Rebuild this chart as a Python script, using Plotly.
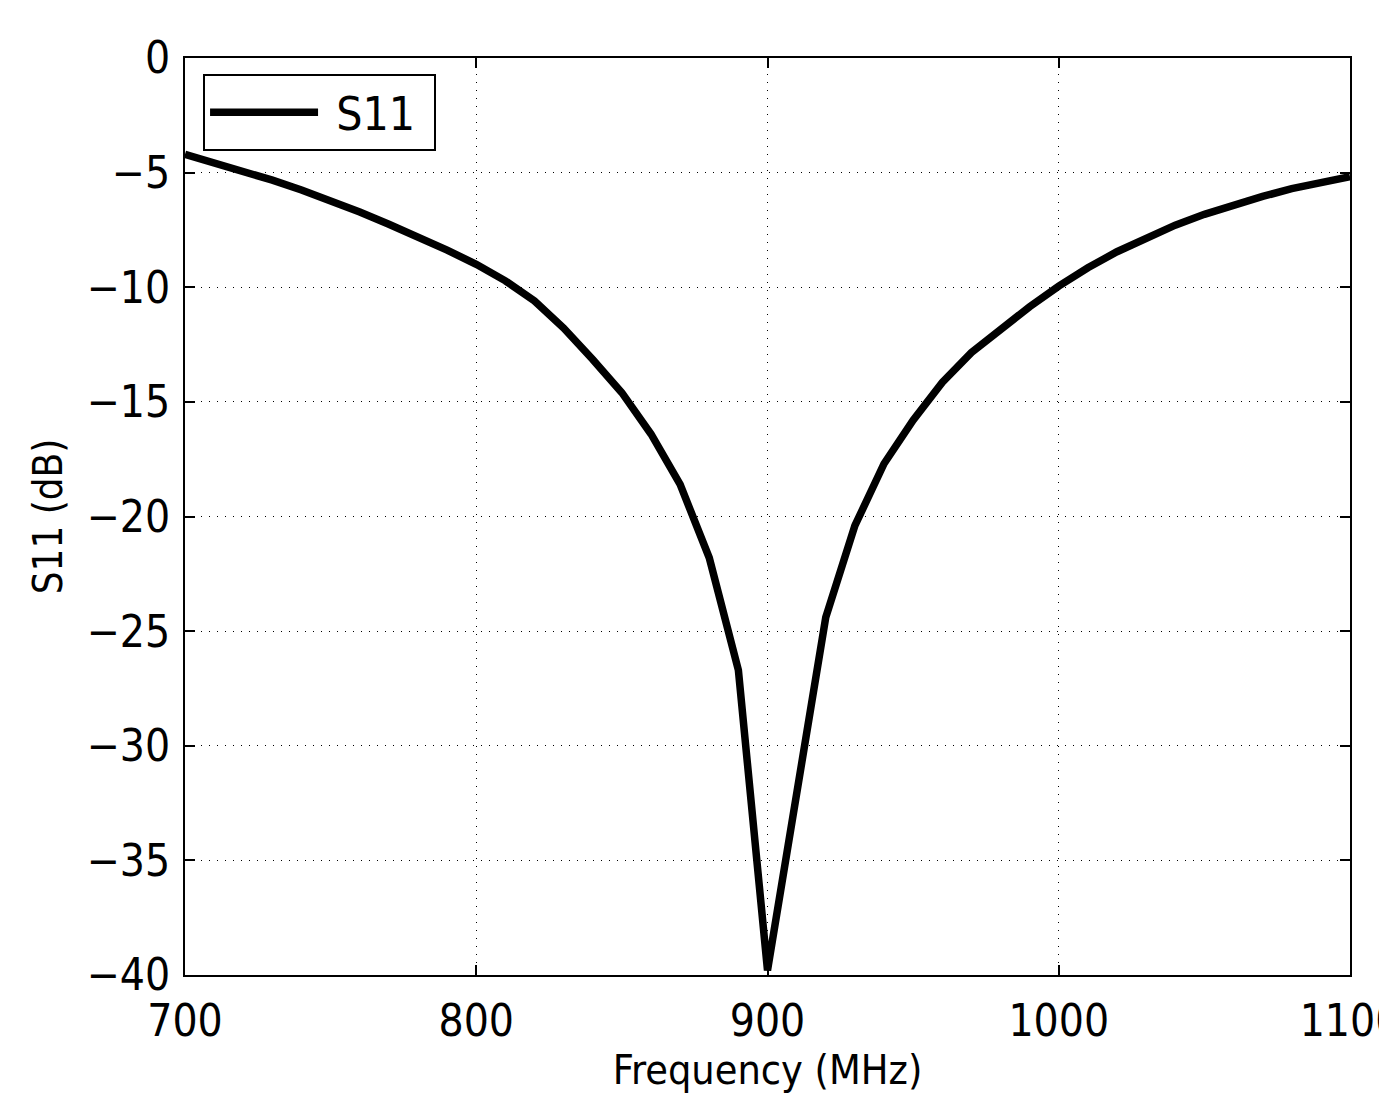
import plotly.graph_objects as go

freq_mhz = [700, 710, 720, 730, 740, 750, 760, 770, 780, 790,
            800, 810, 820, 830, 840, 850, 860, 870, 880, 890,
            900, 910, 920, 930, 940, 950, 960, 970, 980, 990,
            1000, 1010, 1020, 1030, 1040, 1050, 1060, 1070, 1080, 1090, 1100]
s11_db = [-4.2, -4.55, -4.93, -5.33, -5.76, -6.22, -6.72, -7.25, -7.8, -8.38,
          -9.0, -9.72, -10.6, -11.78, -13.15, -14.6, -16.4, -18.6, -21.8, -26.7,
          -39.8, -32.0, -24.4, -20.4, -17.7, -15.8, -14.15, -12.85, -11.8, -10.85,
          -9.95, -9.15, -8.45, -7.83, -7.29, -6.82, -6.40, -6.04, -5.70, -5.42, -5.18]
x_ticks = [700, 800, 900, 1000, 1100]
y_ticks = [0, -5, -10, -15, -20, -25, -30, -35, -40]

FONT = "DejaVu Sans Condensed, DejaVu Sans, sans-serif"

fig = go.Figure()
fig.add_trace(go.Scatter(
    x=freq_mhz, y=s11_db, mode="lines", name="\u00a0S11\u00a0",
    line=dict(color="black", width=7.5),
))

axis_common = dict(
    showline=True, linecolor="black", linewidth=2, mirror="ticks",
    ticks="inside", ticklen=10, tickwidth=1.5, tickcolor="black",
    showgrid=True, gridcolor="black", gridwidth=1, griddash="1px,7px",
    zeroline=False, automargin=False,
    tickfont=dict(family=FONT, size=44, color="black"),
)

fig.update_layout(
    width=1379, height=1118,
    margin=dict(l=185, r=29, t=58, b=143),
    paper_bgcolor="white", plot_bgcolor="white",
    showlegend=True,
    legend=dict(
        x=0.0155, y=0.9826, xanchor="left", yanchor="top",
        bgcolor="white", bordercolor="black", borderwidth=2,
        font=dict(family=FONT, size=46, color="black"),
        itemwidth=108,
    ),
    xaxis=dict(
        range=[700, 1100], tickvals=x_ticks, ticktext=[str(v) for v in x_ticks],
        ticklabeloverflow="allow",
        title=dict(text="Frequency (MHz)", font=dict(family=FONT, size=41, color="black"), standoff=4),
        ticklabelstandoff=6,
        **axis_common,
    ),
    yaxis=dict(
        range=[-40, 0], tickvals=y_ticks,
        title=dict(text="S11 (dB)", font=dict(family=FONT, size=40, color="black"), standoff=12),
        ticklabelstandoff=4,
        **axis_common,
    ),
)

fig.write_html("out.html")
